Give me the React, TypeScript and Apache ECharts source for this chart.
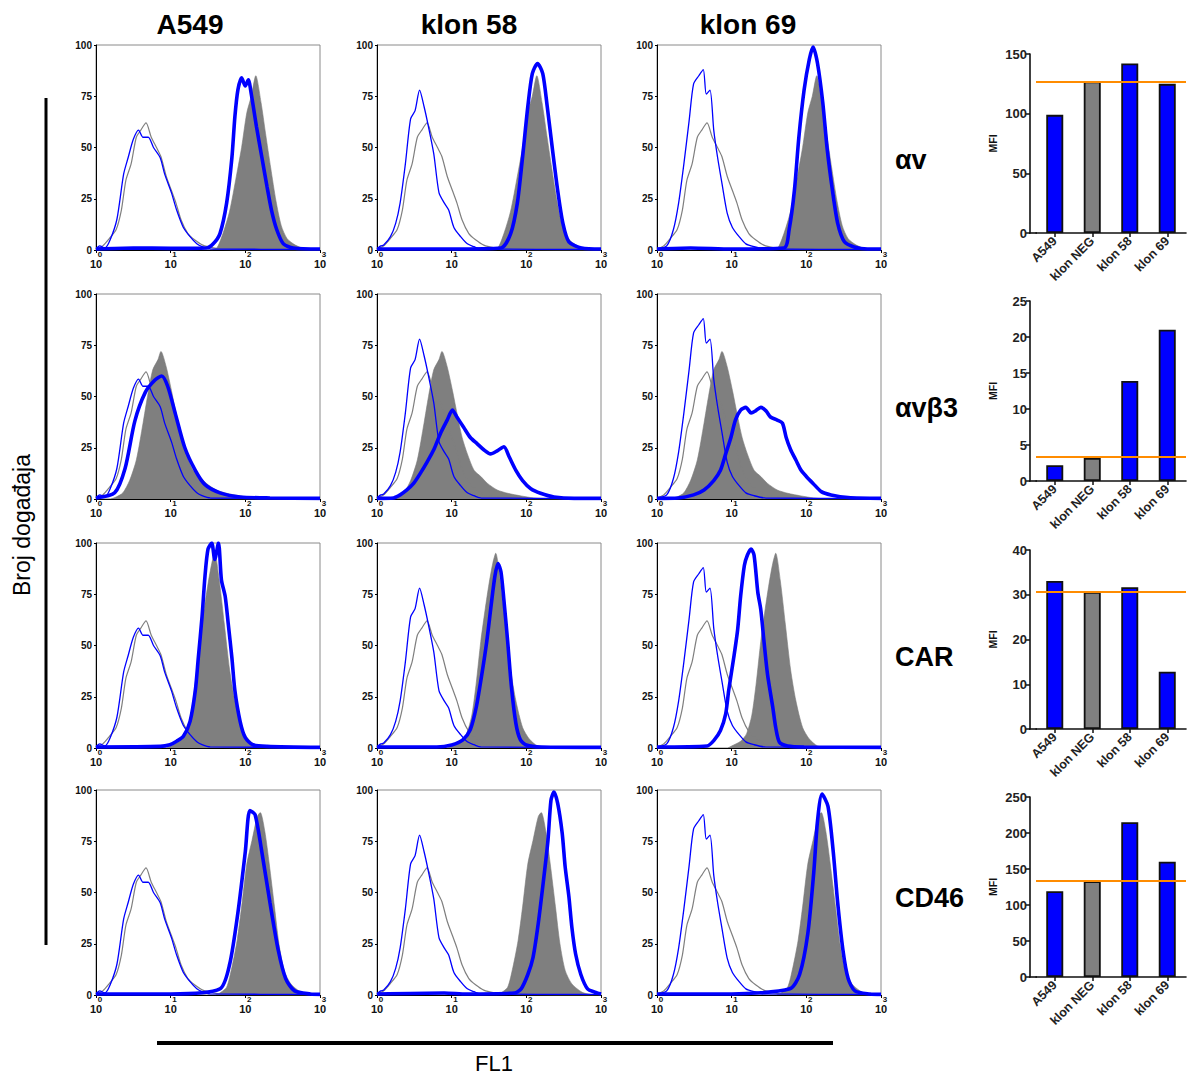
import React, { useEffect, useRef } from 'react';
import * as echarts from 'echarts';

const FONT = '"Liberation Sans", Arial, Helvetica, sans-serif';

// ---- labels ----
const columns = ['A549', 'klon 58', 'klon 69'];
const markers = ['αv', 'αvβ3', 'CAR', 'CD46'];
const categories = ['A549', 'klon NEG', 'klon 58', 'klon 69'];
const decadeTicks = [0, 1, 2, 3];
const countTicks = [0, 25, 50, 75, 100];

// ---- histogram curves: [decade (log10 FL1), events] ----
// isotype control, grey thin line (same in every panel)
const isoGrey = [[0,0.5],[0.09,2],[0.18,5.7],[0.27,10],[0.34,19.5],[0.4,34],[0.47,42],[0.54,55],[0.6,58.5],[0.67,62],[0.74,55],[0.81,50],[0.87,45.5],[0.94,36],[1.01,29],[1.07,23],[1.14,14.6],[1.23,8],[1.32,5],[1.43,2.4],[1.57,1],[1.7,0.3],[3,0]];
// isotype control, blue thin line, per column
const isoBlueA549 = [[0,0.5],[0.05,2],[0.12,1],[0.19,5],[0.28,15],[0.37,37],[0.43,45],[0.5,54],[0.57,58.5],[0.63,55],[0.7,55],[0.77,50],[0.86,45],[0.92,37],[1.01,28],[1.08,19.5],[1.17,11],[1.26,6.5],[1.35,3],[1.42,1.6],[1.53,0.5],[3,0.3]];
const isoBlue58 = [[0,0.5],[0.05,2],[0.09,2.4],[0.18,6.5],[0.25,13],[0.31,23],[0.38,42],[0.45,64],[0.51,68],[0.57,78],[0.63,70],[0.69,60],[0.76,47],[0.83,28],[0.9,23],[0.96,19.5],[1.03,11],[1.12,6.5],[1.21,3],[1.3,1.6],[1.39,0.5],[3,0.3]];
const isoBlue69 = [[0,0.5],[0.13,2],[0.22,10],[0.29,23],[0.36,42],[0.43,63],[0.49,81],[0.56,85],[0.62,88],[0.66,76],[0.71,78],[0.76,58.5],[0.81,45.5],[0.87,32.5],[0.94,18],[1.01,11],[1.1,6.5],[1.19,3],[1.3,1.6],[1.45,0.5],[3,0.3]];

// klon NEG stained, grey filled, per marker row
const fillAv = [[1.55,0],[1.62,1],[1.7,8],[1.79,19],[1.88,36],[1.95,50],[2.02,67],[2.08,75],[2.14,85],[2.21,72],[2.27,57],[2.34,40],[2.41,24],[2.48,12],[2.56,5.5],[2.67,2.4],[2.8,0.5],[2.95,0]];
const fillAvb3 = [[0.2,0],[0.27,1],[0.36,3],[0.45,9],[0.54,19],[0.63,37],[0.69,50],[0.76,63],[0.83,68],[0.87,72],[0.94,64.5],[1.01,53],[1.07,42],[1.14,30],[1.21,22],[1.3,14],[1.39,11],[1.48,7.6],[1.61,4.4],[1.75,2.8],[1.93,1.5],[2.1,0.5],[2.3,0]];
const fillCar = [[0.95,0],[1.0,1],[1.12,3.3],[1.2,7],[1.27,16],[1.33,32],[1.39,52],[1.45,68],[1.5,80],[1.55,90],[1.59,95],[1.65,82],[1.72,60],[1.79,38],[1.86,23],[1.95,10],[2.04,4.4],[2.15,1],[2.3,0]];
const fillCd46 = [[1.6,0],[1.66,1],[1.75,3.8],[1.82,13.5],[1.89,26.6],[1.95,43],[2.02,64],[2.09,75.5],[2.16,87],[2.2,89],[2.26,80],[2.32,64],[2.39,43],[2.45,25],[2.52,12],[2.61,5.4],[2.75,1.3],[2.9,0]];

// stained sample, blue thick line, per panel
const thickA549Av = [[0,0.5],[0.5,1],[1.0,0.8],[1.48,1],[1.57,3],[1.66,8],[1.75,23],[1.82,45],[1.86,65],[1.9,78],[1.95,84],[2.0,80],[2.04,83],[2.08,76],[2.15,60],[2.22,45.5],[2.29,31],[2.35,19.5],[2.42,10],[2.51,3],[2.64,1],[3,0.5]];
const thick58Av = [[0,0.5],[1.0,0.5],[1.66,1],[1.79,8],[1.88,23],[1.95,45.5],[2.02,70],[2.08,86],[2.15,91],[2.22,86],[2.28,70],[2.35,49],[2.42,29],[2.49,13],[2.57,4],[2.74,1],[3,0.5]];
const thick69Av = [[0,0.5],[0.45,1],[1.0,0.5],[1.7,1],[1.77,10],[1.84,29],[1.9,55],[1.97,78],[2.04,93],[2.09,99],[2.15,91],[2.22,72],[2.28,49],[2.35,29],[2.42,13],[2.51,4],[2.64,1.5],[2.82,0.5],[3,0.5]];
const thickA549Avb3 = [[0,0.5],[0.25,3],[0.39,15],[0.52,38],[0.66,52],[0.79,58],[0.88,60],[0.96,55],[1.06,42],[1.19,25],[1.33,14],[1.46,7],[1.66,3],[1.93,1],[2.33,0.5],[3,0.3]];
const thick58Avb3 = [[0,0.3],[0.22,0.5],[0.31,2],[0.4,4.4],[0.49,7.6],[0.58,12.5],[0.67,18],[0.76,24],[0.85,32],[0.94,38.5],[1.01,43.4],[1.07,40],[1.16,35],[1.25,30],[1.34,27],[1.43,24],[1.52,22],[1.61,23.5],[1.7,25.5],[1.77,20.6],[1.86,14],[1.95,9],[2.06,5],[2.19,2.8],[2.37,1],[2.64,0.3],[3,0.3]];
const thick69Avb3 = [[0,0.3],[0.28,0.5],[0.49,2],[0.63,4.4],[0.76,9],[0.85,14],[0.92,22],[0.99,30],[1.05,38.5],[1.12,43.4],[1.19,44.7],[1.26,42],[1.32,43],[1.39,44.7],[1.46,43],[1.52,40],[1.61,38.5],[1.68,37],[1.73,30],[1.79,24],[1.86,19],[1.93,14],[2.0,11],[2.09,7.6],[2.2,3.6],[2.33,2],[2.56,0.7],[3,0.3]];
const thickA549Car = [[0,0.5],[0.86,0.8],[0.99,1.6],[1.08,3.3],[1.17,5.7],[1.26,13],[1.33,28],[1.37,44],[1.42,64],[1.46,84],[1.5,97],[1.55,100],[1.59,92],[1.64,100],[1.68,82],[1.73,74],[1.77,61],[1.82,44],[1.86,28],[1.93,13],[2.0,5],[2.1,1.6],[2.29,0.8],[3,0.3]];
const thick58Car = [[0,0.5],[0.8,0.5],[1.0,1.5],[1.15,4],[1.25,9],[1.33,20],[1.4,35],[1.47,52],[1.53,70],[1.58,84],[1.62,90],[1.66,86],[1.7,72],[1.75,52],[1.8,30],[1.86,12],[1.92,4],[2.0,1.5],[2.2,0.5],[3,0.3]];
const thick69Car = [[0,0.5],[0.67,1],[0.76,3.6],[0.85,8.5],[0.92,16.7],[0.96,28],[1.03,44.6],[1.08,57.7],[1.12,74],[1.17,89],[1.21,94],[1.26,97],[1.3,94],[1.35,76],[1.39,67.5],[1.43,53],[1.48,36],[1.55,20],[1.59,10],[1.64,2.8],[1.75,1],[1.97,0.5],[3,0.3]];
const thickA549Cd46 = [[0,0.5],[1.0,0.5],[1.66,3],[1.79,15],[1.9,40],[2.0,70],[2.06,90],[2.13,88],[2.22,70],[2.33,45],[2.44,22],[2.54,8],[2.66,2],[2.87,0.5],[3,0.3]];
const thick58Cd46 = [[0,0.5],[0.9,1],[1.2,0.5],[1.84,1],[1.93,3],[2.02,10],[2.09,18.4],[2.16,35],[2.23,56],[2.29,75.5],[2.33,95],[2.37,99],[2.42,93.5],[2.48,79],[2.52,62.5],[2.57,48],[2.61,33],[2.66,20],[2.73,10],[2.82,3],[2.93,1.3],[3,0.5]];
const thick69Cd46 = [[0,0.5],[1.0,0.5],[1.78,3],[1.91,10],[2.02,30],[2.1,60],[2.15,85],[2.21,98],[2.29,92],[2.36,70],[2.42,45],[2.49,22],[2.56,8],[2.65,2],[2.85,0.5],[3,0.3]];

// ---- MFI bars ----
const mfiAv = [99, 127, 142, 125];
const mfiAvb3 = [2.2, 3.2, 13.9, 21.0];
const mfiCar = [33.1, 30.6, 31.7, 12.8];
const mfiCd46 = [119, 133, 215, 160];
const mfiRef = [127, 3.3, 30.7, 134];
const mfiMax = [150, 25, 40, 250];
const mfiStep = [50, 5, 10, 50];

// ---- layout ----
const colLeft = [96, 377, 657];
const rowTop = [45, 294, 543, 790];
const histW = 224;
const histH = 205;
const barLeft = 1036;
const barW = 150;
const barTop = [54, 301, 550, 797];
const barH = [179, 180, 179, 180];

function buildOption() {
  const isoBlue = [isoBlueA549, isoBlue58, isoBlue69];
  const fills = [fillAv, fillAvb3, fillCar, fillCd46];
  const thick = [
    [thickA549Av, thick58Av, thick69Av],
    [thickA549Avb3, thick58Avb3, thick69Avb3],
    [thickA549Car, thick58Car, thick69Car],
    [thickA549Cd46, thick58Cd46, thick69Cd46],
  ];
  const mfi = [mfiAv, mfiAvb3, mfiCar, mfiCd46];

  const grid: any[] = [];
  const xAxis: any[] = [];
  const yAxis: any[] = [];
  const series: any[] = [];
  const graphic: any[] = [];

  for (let r = 0; r < 4; r++) {
    for (let c = 0; c < 3; c++) {
      const gi = grid.length;
      grid.push({
        left: colLeft[c], top: rowTop[r], width: histW, height: histH,
        show: true, borderColor: '#8a8a8a', borderWidth: 1, backgroundColor: 'transparent',
      });
      xAxis.push({
        gridIndex: gi, type: 'value', min: 0, max: decadeTicks[decadeTicks.length - 1], interval: 1,
        axisLine: { show: true, onZero: false, lineStyle: { color: '#000', width: 1 } },
        axisTick: { show: true, length: 3, lineStyle: { color: '#000' } },
        splitLine: { show: false },
        axisLabel: {
          showMinLabel: true, showMaxLabel: true, margin: 1, color: '#111',
          formatter: (v: number) => `{s|${v}}\n{b|10}`,
          rich: {
            s: { fontSize: 8, fontWeight: 'bold', fontFamily: FONT, align: 'right', lineHeight: 7, color: '#111' },
            b: { fontSize: 11, fontWeight: 'bold', fontFamily: FONT, lineHeight: 11, color: '#111' },
          },
        },
      });
      yAxis.push({
        gridIndex: gi, type: 'value', min: countTicks[0], max: countTicks[countTicks.length - 1], interval: 25,
        axisLine: { show: true, lineStyle: { color: '#000', width: 1 } },
        axisTick: { show: true, length: 2, lineStyle: { color: '#000' } },
        splitLine: { show: false },
        axisLabel: { fontSize: 10, fontWeight: 'bold', fontFamily: FONT, color: '#111', margin: 4 },
      });
      const common = { xAxisIndex: gi, yAxisIndex: gi, type: 'line', symbol: 'none', smooth: 0.25, silent: true };
      series.push({ ...common, data: fills[r], lineStyle: { width: 0.6, color: '#7a7a7a' }, areaStyle: { color: '#7f7f7f', opacity: 1 }, z: 1 });
      series.push({ ...common, data: isoGrey, lineStyle: { width: 1.2, color: '#7f7f7f' }, z: 2 });
      series.push({ ...common, data: isoBlue[c], lineStyle: { width: 1.3, color: '#0000ff' }, z: 3 });
      series.push({ ...common, data: thick[r][c], lineStyle: { width: 3.6, color: '#0000ff' }, z: 4 });
    }
  }

  for (let r = 0; r < 4; r++) {
    const gi = grid.length;
    grid.push({ left: barLeft, top: barTop[r], width: barW, height: barH[r] });
    xAxis.push({
      gridIndex: gi, type: 'category', data: categories,
      axisLine: { show: true, lineStyle: { color: '#111', width: 1.6 } },
      axisTick: { show: true, alignWithLabel: true, length: 4, lineStyle: { color: '#111', width: 1.5 } },
      axisLabel: { rotate: 45, interval: 0, fontSize: 12.5, fontWeight: 'bold', fontFamily: FONT, color: '#222', margin: 6 },
    });
    yAxis.push({
      gridIndex: gi, type: 'value', min: 0, max: mfiMax[r], interval: mfiStep[r], offset: 6,
      name: 'MFI', nameLocation: 'middle', nameGap: 32, nameRotate: 90,
      nameTextStyle: { fontSize: 10.5, fontWeight: 'bold', fontFamily: FONT, color: '#111' },
      axisLine: { show: true, lineStyle: { color: '#111', width: 1.6 } },
      axisTick: { show: true, length: 4, lineStyle: { color: '#111', width: 1.5 } },
      splitLine: { show: false },
      axisLabel: { fontSize: 13, fontWeight: 'bold', fontFamily: FONT, color: '#222', margin: 3 },
    });
    series.push({
      type: 'bar', xAxisIndex: gi, yAxisIndex: gi, barWidth: 17, silent: true,
      data: mfi[r].map((v, i) => ({ value: v, itemStyle: { color: i === 1 ? '#808080' : '#0000ff' } })),
      itemStyle: { borderColor: '#111', borderWidth: 1.8 },
      markLine: {
        silent: true, symbol: 'none', label: { show: false },
        lineStyle: { color: '#ff8c00', width: 2, type: 'solid' },
        data: [{ yAxis: mfiRef[r] }],
      },
    });
    const yb = barTop[r] + barH[r];
    graphic.push({ type: 'line', shape: { x1: barLeft - 7, y1: yb, x2: barLeft + 1, y2: yb }, style: { stroke: '#111', lineWidth: 1.6 } });
  }

  const colTitleX = [190, 469, 748];
  columns.forEach((t, i) => {
    graphic.push({ type: 'text', x: colTitleX[i], y: 24, style: { text: t, font: `bold 28px ${FONT}`, fill: '#000', textAlign: 'center', textVerticalAlign: 'middle', verticalAlign: 'middle' } });
  });
  const markerY = [160, 408, 657, 898];
  markers.forEach((t, i) => {
    graphic.push({ type: 'text', x: 895, y: markerY[i], style: { text: t, font: `bold 27px ${FONT}`, fill: '#000', textAlign: 'left', textVerticalAlign: 'middle', verticalAlign: 'middle' } });
  });
  graphic.push({ type: 'line', shape: { x1: 46, y1: 98, x2: 46, y2: 945 }, style: { stroke: '#000', lineWidth: 3 } });
  graphic.push({ type: 'text', x: 22, y: 525, rotation: Math.PI / 2, style: { text: 'Broj događaja', font: `23px ${FONT}`, fill: '#000', textAlign: 'center', textVerticalAlign: 'middle', verticalAlign: 'middle' } });
  graphic.push({ type: 'line', shape: { x1: 157, y1: 1043, x2: 833, y2: 1043 }, style: { stroke: '#000', lineWidth: 4 } });
  graphic.push({ type: 'text', x: 494, y: 1063, style: { text: 'FL1', font: `22px ${FONT}`, fill: '#000', textAlign: 'center', textVerticalAlign: 'middle', verticalAlign: 'middle' } });

  return { animation: false, backgroundColor: '#fff', grid, xAxis, yAxis, series, graphic };
}

export default function App() {
  const ref = useRef<HTMLDivElement>(null);
  useEffect(() => {
    const chart = echarts.init(ref.current as HTMLDivElement, null, { renderer: 'svg' });
    chart.setOption(buildOption() as any);
    return () => chart.dispose();
  }, []);
  return <div ref={ref} style={{ position: 'absolute', left: 0, top: 0, width: 1190, height: 1077, background: '#fff' }} />;
}
